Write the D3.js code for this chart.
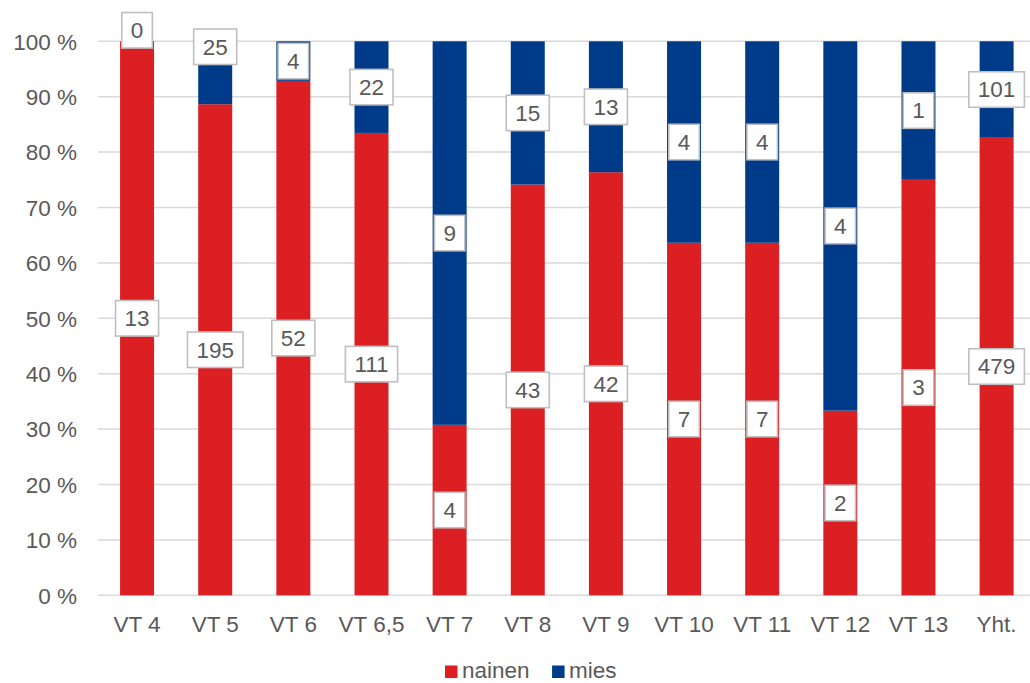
<!DOCTYPE html>
<html>
<head>
<meta charset="utf-8">
<script src="https://cdn.jsdelivr.net/npm/d3@7"></script>
<style>
  html, body { margin: 0; padding: 0; background: #ffffff; }
  svg { display: block; font-family: "Liberation Sans", Arial, sans-serif; }
</style>
</head>
<body>
<svg id="chart" width="1030" height="683"></svg>
<script>
// Categories and counts per group
const categories = ["VT 4", "VT 5", "VT 6", "VT 6,5", "VT 7", "VT 8", "VT 9", "VT 10", "VT 11", "VT 12", "VT 13", "Yht."];
const nainen = [13, 195, 52, 111, 4, 43, 42, 7, 7, 2, 3, 479];
const mies = [0, 25, 4, 22, 9, 15, 13, 4, 4, 4, 1, 101];
const yTicks = [0, 10, 20, 30, 40, 50, 60, 70, 80, 90, 100];
const seriesNames = ["nainen", "mies"];

const colors = { nainen: "#DB1F22", mies: "#003B8A" };
const textColor = "#595959";
const fontSize = 22.5;

const svg = d3.select("#chart");
const W = 1030, H = 683;

const plotLeft = 98, plotTop = 41.3, plotBottom = 595.3;
const step = 78.14;
const x = d3.scaleBand()
  .domain(categories)
  .range([plotLeft, plotLeft + step * categories.length])
  .paddingInner(0.565)
  .paddingOuter(0.2825);
const y = d3.scaleLinear().domain([0, 100]).range([plotBottom, plotTop]);

// Gridlines
svg.append("g").selectAll("line")
  .data(yTicks)
  .join("line")
  .attr("x1", plotLeft).attr("x2", W)
  .attr("y1", d => y(d)).attr("y2", d => y(d))
  .attr("stroke", "#d9d9d9").attr("stroke-width", 1.5);

// Y axis labels
const yAxis = d3.axisLeft(y).tickValues(yTicks).tickFormat(d => d + " %").tickSize(0).tickPadding(0);
const yg = svg.append("g").attr("transform", "translate(77,0)").call(yAxis);
yg.select(".domain").remove();
yg.selectAll("text")
  .attr("fill", textColor).attr("font-size", fontSize)
  .attr("font-family", "Liberation Sans, Arial, sans-serif")
  .attr("dy", "0.35em");

// X axis labels
const xAxis = d3.axisBottom(x).tickSize(0).tickPadding(0);
const xg = svg.append("g").attr("transform", `translate(0,${plotBottom})`).call(xAxis);
xg.select(".domain").remove();
xg.selectAll("text")
  .attr("fill", textColor).attr("font-size", fontSize)
  .attr("font-family", "Liberation Sans, Arial, sans-serif")
  .attr("y", 36.5).attr("dy", 0);

// Stack the series as percentages
const rows = categories.map((c, i) => {
  const total = nainen[i] + mies[i];
  return { cat: c, nainen: nainen[i], mies: mies[i], total };
});
const stack = d3.stack().keys(seriesNames)
  .value((d, k) => d[k] / d.total * 100);
const stacked = stack(rows);

const barG = svg.append("g");
stacked.forEach(layer => {
  barG.append("g").selectAll("rect")
    .data(layer)
    .join("rect")
    .attr("x", d => x(d.data.cat))
    .attr("width", x.bandwidth())
    .attr("y", d => y(d[1]))
    .attr("height", d => Math.max(0, y(d[0]) - y(d[1])))
    .attr("fill", colors[layer.key]);
});

// Value labels in boxes at segment middles
const labelNudge = { "VT 4|mies": -11, "VT 5|mies": -26 };
const labG = svg.append("g");
stacked.forEach(layer => {
  layer.forEach(d => {
    const val = d.data[layer.key];
    const cx = x(d.data.cat) + x.bandwidth() / 2;
    const cy = y((d[0] + d[1]) / 2) + (labelNudge[d.data.cat + "|" + layer.key] || 0);
    const g = labG.append("g").attr("transform", `translate(${cx},${cy})`);
    const rect = g.append("rect").attr("fill", "#ffffff").attr("stroke", "#bfbfbf").attr("stroke-width", 1.6);
    const t = g.append("text")
      .attr("text-anchor", "middle").attr("dy", "0.35em")
      .attr("font-size", fontSize).attr("fill", textColor)
      .text(val);
    const w = t.node().getComputedTextLength() + 18;
    const h = 35.5;
    rect.attr("x", -w / 2).attr("y", -h / 2).attr("width", w).attr("height", h);
  });
});

// Legend
const legend = svg.append("g");
let lx = 445;
const swatchTop = 665.5, textBaseline = 678;
seriesNames.forEach(name => {
  legend.append("rect").attr("x", lx).attr("y", swatchTop).attr("width", 12.5).attr("height", 12.5).attr("fill", colors[name]);
  const t = legend.append("text").attr("x", lx + 17).attr("y", textBaseline)
    .attr("font-size", fontSize).attr("fill", textColor).text(name);
  lx += 17 + t.node().getComputedTextLength() + 22.5;
});
</script>
</body>
</html>
